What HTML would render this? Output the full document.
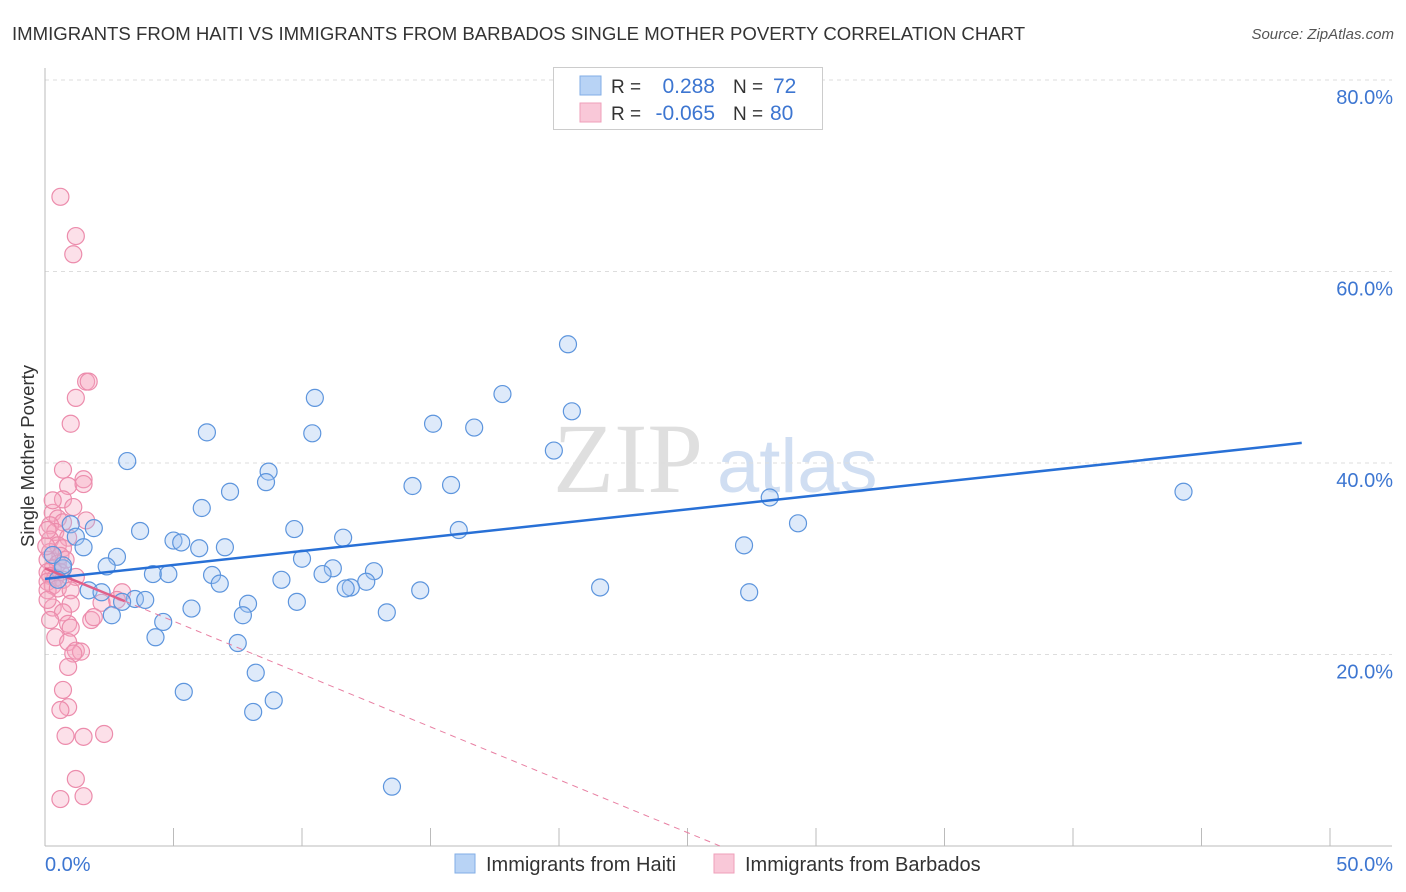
<!DOCTYPE html>
<html><head><meta charset="utf-8"><style>
body{margin:0;background:#fff;font-family:"Liberation Sans",sans-serif;}
svg{display:block}
</style></head><body>
<svg id="chart" width="1406" height="892" xmlns="http://www.w3.org/2000/svg">
<text x="12" y="40" font-size="18.6" fill="#333">IMMIGRANTS FROM HAITI VS IMMIGRANTS FROM BARBADOS SINGLE MOTHER POVERTY CORRELATION CHART</text>
<text x="1394" y="39" font-size="15" fill="#555" font-style="italic" text-anchor="end">Source: ZipAtlas.com</text>
<g>
<text x="553" y="492" font-size="100" font-family="Liberation Serif,serif" fill="#d8d8d8" opacity="0.8">ZIP</text>
<text x="717" y="492" font-size="76" fill="#c5d7ef" opacity="0.8">atlas</text>
</g>
<g id="grid"></g>
<g id="axes"></g>
<g id="marks"></g>
<text transform="translate(34,456) rotate(-90)" font-size="18.5" fill="#333" text-anchor="middle">Single Mother Poverty</text>
<g>
<rect x="553.5" y="67.5" width="269" height="62" fill="#fff" stroke="#ccc"/>
<rect x="580" y="76" width="21" height="19" fill="#b8d3f5" stroke="#82aee6"/>
<rect x="580" y="103" width="21" height="19" fill="#f9c8d8" stroke="#ef9fba"/>
<text x="611" y="93" font-size="19" fill="#333">R = </text><text x="715" y="93" font-size="21" fill="#3d76d1" text-anchor="end">0.288</text>
<text x="733" y="93" font-size="19" fill="#333">N = </text><text x="773" y="93" font-size="21" fill="#3d76d1">72</text>
<text x="611" y="120" font-size="19" fill="#333">R = </text><text x="715" y="120" font-size="21" fill="#3d76d1" text-anchor="end">-0.065</text>
<text x="733" y="120" font-size="19" fill="#333">N = </text><text x="770" y="120" font-size="21" fill="#3d76d1">80</text>
</g>
<g>
<rect x="455" y="854" width="20" height="19" fill="#b8d3f5" stroke="#82aee6"/>
<text x="486" y="871" font-size="20" fill="#333">Immigrants from Haiti</text>
<rect x="714" y="854" width="20" height="19" fill="#f9c8d8" stroke="#ef9fba"/>
<text x="745" y="871" font-size="20" fill="#333">Immigrants from Barbados</text>
</g>
</svg>
<script>
const haitiX=[20.35,17.8,20.5,10.5,15.1,16.7,6.3,10.4,19.8,3.2,8.7,8.6,14.3,15.8,7.2,44.3,28.2,6.1,29.3,1.0,1.9,9.7,16.1,3.7,1.2,5.0,5.3,11.6,1.5,27.2,6.0,7.0,2.8,10.0,2.4,0.7,11.2,12.8,4.2,4.8,6.5,10.8,9.2,12.5,6.8,11.9,11.7,21.6,14.6,1.7,2.2,27.4,3.5,3.9,3.0,9.8,7.9,5.7,2.6,7.7,13.3,4.6,4.3,7.5,8.2,5.4,8.9,8.1,13.5,0.7,0.3,0.5];
const haitiY=[52.4,47.2,45.4,46.8,44.1,43.7,43.2,43.1,41.3,40.2,39.1,38.0,37.6,37.7,37.0,37.0,36.4,35.3,33.7,33.6,33.2,33.1,33.0,32.9,32.3,31.9,31.7,32.2,31.2,31.4,31.1,31.2,30.2,30.0,29.2,29.0,29.0,28.7,28.4,28.4,28.3,28.4,27.8,27.6,27.4,27.0,26.9,27.0,26.7,26.7,26.5,26.5,25.8,25.7,25.5,25.5,25.3,24.8,24.1,24.1,24.4,23.4,21.8,21.2,18.1,16.1,15.2,14.0,6.2,29.3,30.4,27.8];
const barbX=[0.6,1.2,1.1,1.6,1.7,1.2,1.0,0.7,1.5,0.9,1.5,0.7,1.1,0.3,0.5,0.7,0.2,1.6,0.4,0.9,0.2,0.5,0.7,0.2,0.6,0.1,0.5,0.3,0.1,0.6,0.2,0.4,0.1,1.2,0.7,0.3,0.1,0.5,1.0,3.0,2.8,2.2,1.0,0.3,0.7,1.8,1.9,0.9,1.0,0.4,0.9,1.2,1.4,1.1,0.9,0.7,0.9,0.6,0.8,1.5,2.3,1.2,0.6,1.5,0.05,0.1,0.1,0.2,0.3,0.8];
const barbY=[67.8,63.7,61.8,48.5,48.5,46.8,44.1,39.3,38.3,37.6,37.8,36.2,35.4,34.8,34.2,33.8,33.5,34.0,32.8,32.2,32.0,31.4,31.1,30.7,30.3,29.9,29.5,29.0,28.6,28.6,28.2,28.0,27.6,28.1,27.8,27.2,26.7,26.9,26.7,26.5,25.7,25.4,25.3,24.9,24.4,23.6,23.9,23.2,22.8,21.8,21.3,20.4,20.3,20.1,18.7,16.3,14.5,14.2,11.5,11.4,11.7,7.0,4.9,5.2,31.3,33.0,25.7,23.6,36.1,29.9];
const yTicks=[20,40,60,80];
const yTickLabels=["20.0%","40.0%","60.0%","80.0%"];
const xTicks=[0,5,10,15,20,25,30,35,40,45,50];
const haitiTrend=[27.9,42.1,48.9];
const barbTrend=[29.0,-1.104,3.1,26.26];

const NS="http://www.w3.org/2000/svg";
const X=v=>45+v*25.7, Y=v=>846-v*9.575;
function mk(tag,attrs,parent){const e=document.createElementNS(NS,tag);for(const k in attrs)e.setAttribute(k,attrs[k]);parent.appendChild(e);return e;}
const grid=document.getElementById('grid'),axes=document.getElementById('axes'),marks=document.getElementById('marks');
yTicks.forEach((t,i)=>{
  const l=mk('line',{x1:45,x2:1392,y1:Y(t),y2:Y(t),stroke:'#ddd','stroke-dasharray':'4,4'},grid);
  
  
  const tx=mk('text',{x:1393,y:Y(t)+24,'font-size':20,fill:'#3d76d1','text-anchor':'end'},axes);
  tx.textContent=yTickLabels[i];
  
  
});
const ax=mk('line',{x1:45,x2:1392,y1:846,y2:846,stroke:'#bbb'},axes);


const ay=mk('line',{x1:45,x2:45,y1:68,y2:846,stroke:'#bbb'},axes);


xTicks.forEach(t=>{
  const l=mk('line',{x1:X(t),x2:X(t),y1:828,y2:846,stroke:'#bbb'},axes);
  
  
});
const x0=mk('text',{x:45,y:871,'font-size':20,fill:'#3d76d1'},axes);x0.textContent='0.0%';


const x1=mk('text',{x:1393,y:871,'font-size':20,fill:'#3d76d1','text-anchor':'end'},axes);x1.textContent='50.0%';



barbX.forEach((v,i)=>{
  const c=mk('circle',{cx:X(v),cy:Y(barbY[i]),r:8.5,fill:'rgba(245,165,192,0.35)',stroke:'#ec8cac','stroke-width':1.2},marks);
  
  
});
haitiX.forEach((v,i)=>{
  const c=mk('circle',{cx:X(v),cy:Y(haitiY[i]),r:8.5,fill:'rgba(160,196,240,0.35)',stroke:'#5d95dd','stroke-width':1.2},marks);
  
  
});
const bAt=x=>barbTrend[0]+barbTrend[1]*x;
const bd=mk('line',{x1:X(barbTrend[2]),y1:Y(bAt(barbTrend[2])),x2:X(barbTrend[3]),y2:Y(bAt(barbTrend[3])),stroke:'#e87fa2','stroke-width':1,'stroke-dasharray':'6,5'},marks);


const bs=mk('line',{x1:X(0),y1:Y(bAt(0)),x2:X(barbTrend[2]),y2:Y(bAt(barbTrend[2])),stroke:'#e0608a','stroke-width':2.5},marks);


const hl=mk('line',{x1:X(0),y1:Y(haitiTrend[0]),x2:X(haitiTrend[2]),y2:Y(haitiTrend[1]),stroke:'#2870d6','stroke-width':2.5},marks);


</script>
</body></html>
